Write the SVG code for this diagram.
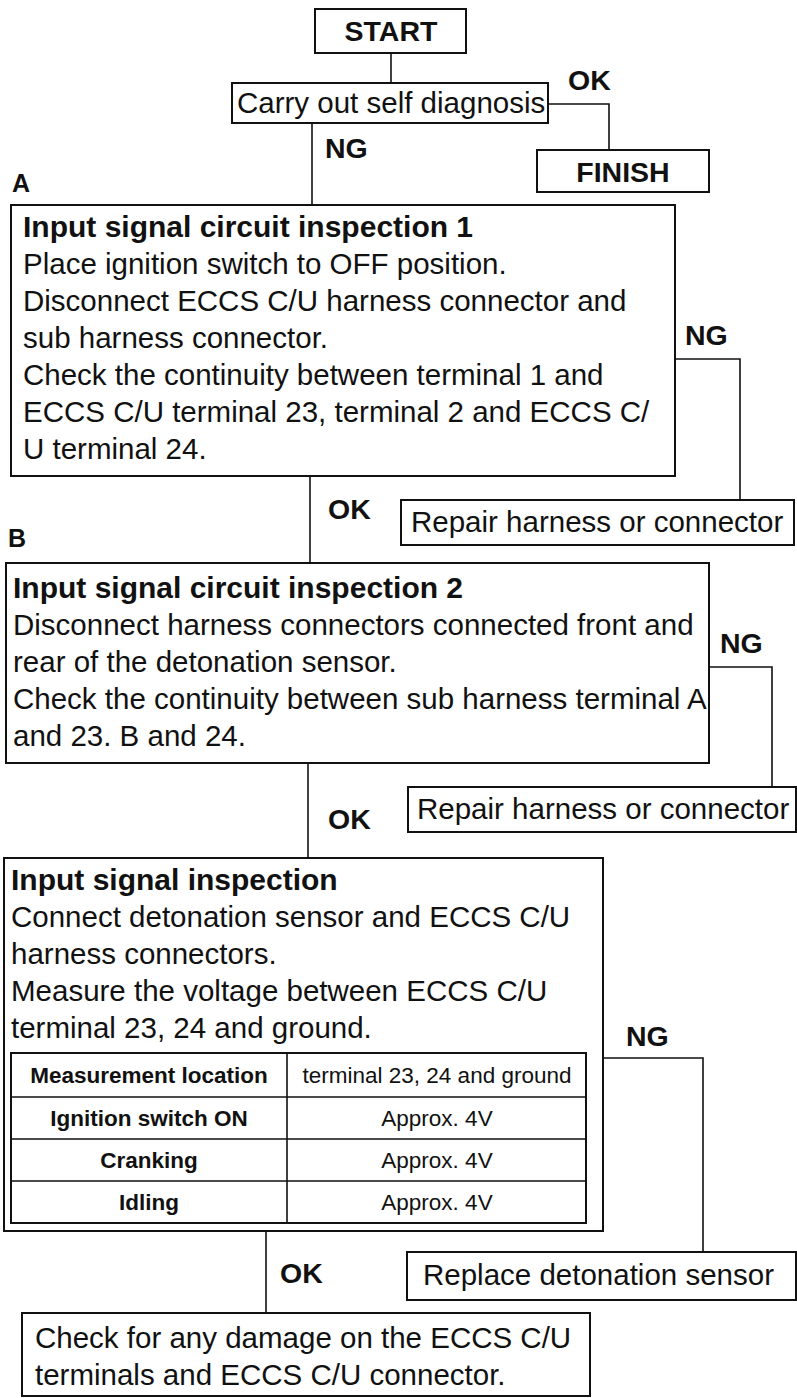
<svg xmlns="http://www.w3.org/2000/svg" width="797" height="1398" viewBox="0 0 797 1398">
<style>
.box{fill:#fff;stroke:#111;stroke-width:2}
.ln{fill:none;stroke:#111;stroke-width:1.6}
text{font-family:"Liberation Sans",Arial,Helvetica,sans-serif;fill:#111}
.t{font-size:29.5px}
.b{font-size:30px;font-weight:bold}
.lb{font-size:28.5px;font-weight:bold}
.sec{font-size:25px;font-weight:bold}
.th{font-size:22.5px;font-weight:bold}
.td{font-size:22.5px}
.c{text-anchor:middle}
</style>
<rect x="0" y="0" width="797" height="1398" fill="#fff"/>
<g id="connectors">
<path class="ln" d="M391,53 V83"/>
<path class="ln" d="M548,104 H609 V150"/>
<path class="ln" d="M312,123 V205"/>
<path class="ln" d="M675,359 H740 V500"/>
<path class="ln" d="M310,476 V563"/>
<path class="ln" d="M709,667 H772 V787"/>
<path class="ln" d="M308,763 V858"/>
<path class="ln" d="M603,1058 H703 V1252"/>
<path class="ln" d="M266,1231 V1313"/>
<text class="lb" x="568" y="90">OK</text>
<text class="lb" x="325" y="158">NG</text>
<text class="lb" x="685" y="345">NG</text>
<text class="lb" x="328" y="519">OK</text>
<text class="lb" x="720" y="653">NG</text>
<text class="lb" x="328" y="829">OK</text>
<text class="lb" x="626" y="1046">NG</text>
<text class="lb" x="280" y="1283">OK</text>
</g>
<g id="start">
<rect class="box" x="315" y="9" width="151" height="44"/>
<text class="lb c" x="391" y="41">START</text>
</g>
<g id="self-diagnosis">
<rect class="box" x="232" y="83" width="316" height="40"/>
<text class="t" x="237" y="113">Carry out self diagnosis</text>
</g>
<g id="finish">
<rect class="box" x="537" y="150" width="172" height="42"/>
<text class="lb c" x="623" y="182">FINISH</text>
</g>
<g id="inspection-1">
<text class="sec" x="12" y="192">A</text>
<rect class="box" x="11" y="205" width="664" height="271"/>
<text class="b" x="23" y="237">Input signal circuit inspection 1</text>
<text class="t" x="23" y="274">Place ignition switch to OFF position.</text>
<text class="t" x="23" y="311">Disconnect ECCS C/U harness connector and</text>
<text class="t" x="23" y="348">sub harness connector.</text>
<text class="t" x="23" y="385">Check the continuity between terminal 1 and</text>
<text class="t" x="23" y="422">ECCS C/U terminal 23, terminal 2 and ECCS C/</text>
<text class="t" x="23" y="459">U terminal 24.</text>
</g>
<g id="repair-1">
<rect class="box" x="401" y="500" width="393" height="45"/>
<text class="t" x="411" y="532">Repair harness or connector</text>
</g>
<g id="inspection-2">
<text class="sec" x="8" y="547">B</text>
<rect class="box" x="6" y="563" width="703" height="200"/>
<text class="b" x="13" y="598">Input signal circuit inspection 2</text>
<text class="t" x="13" y="635">Disconnect harness connectors connected front and</text>
<text class="t" x="13" y="672">rear of the detonation sensor.</text>
<text class="t" x="13" y="709">Check the continuity between sub harness terminal A</text>
<text class="t" x="13" y="746">and 23. B and 24.</text>
</g>
<g id="repair-2">
<rect class="box" x="408" y="787" width="388" height="45"/>
<text class="t" x="417" y="819">Repair harness or connector</text>
</g>
<g id="input-signal-inspection">
<rect class="box" x="4" y="858" width="599" height="373"/>
<text class="b" x="11" y="890">Input signal inspection</text>
<text class="t" x="11" y="927">Connect detonation sensor and ECCS C/U</text>
<text class="t" x="11" y="964">harness connectors.</text>
<text class="t" x="11" y="1001">Measure the voltage between ECCS C/U</text>
<text class="t" x="11" y="1038">terminal 23, 24 and ground.</text>
<g id="table">
<rect class="box" x="11" y="1053" width="575" height="170"/>
<path class="ln" d="M287,1053 V1223 M11,1097 H586 M11,1139 H586 M11,1181 H586"/>
<text class="th c" x="149" y="1083">Measurement location</text>
<text class="td c" x="437" y="1083">terminal 23, 24 and ground</text>
<text class="th c" x="149" y="1126">Ignition switch ON</text>
<text class="td c" x="437" y="1126">Approx. 4V</text>
<text class="th c" x="149" y="1168">Cranking</text>
<text class="td c" x="437" y="1168">Approx. 4V</text>
<text class="th c" x="149" y="1210">Idling</text>
<text class="td c" x="437" y="1210">Approx. 4V</text>
</g>
</g>
<g id="replace-sensor">
<rect class="box" x="407" y="1252" width="389" height="48"/>
<text class="t" x="423" y="1285">Replace detonation sensor</text>
</g>
<g id="check-damage">
<rect class="box" x="22" y="1313" width="568" height="83"/>
<text class="t" x="35" y="1348">Check for any damage on the ECCS C/U</text>
<text class="t" x="35" y="1385">terminals and ECCS C/U connector.</text>
</g>
</svg>
